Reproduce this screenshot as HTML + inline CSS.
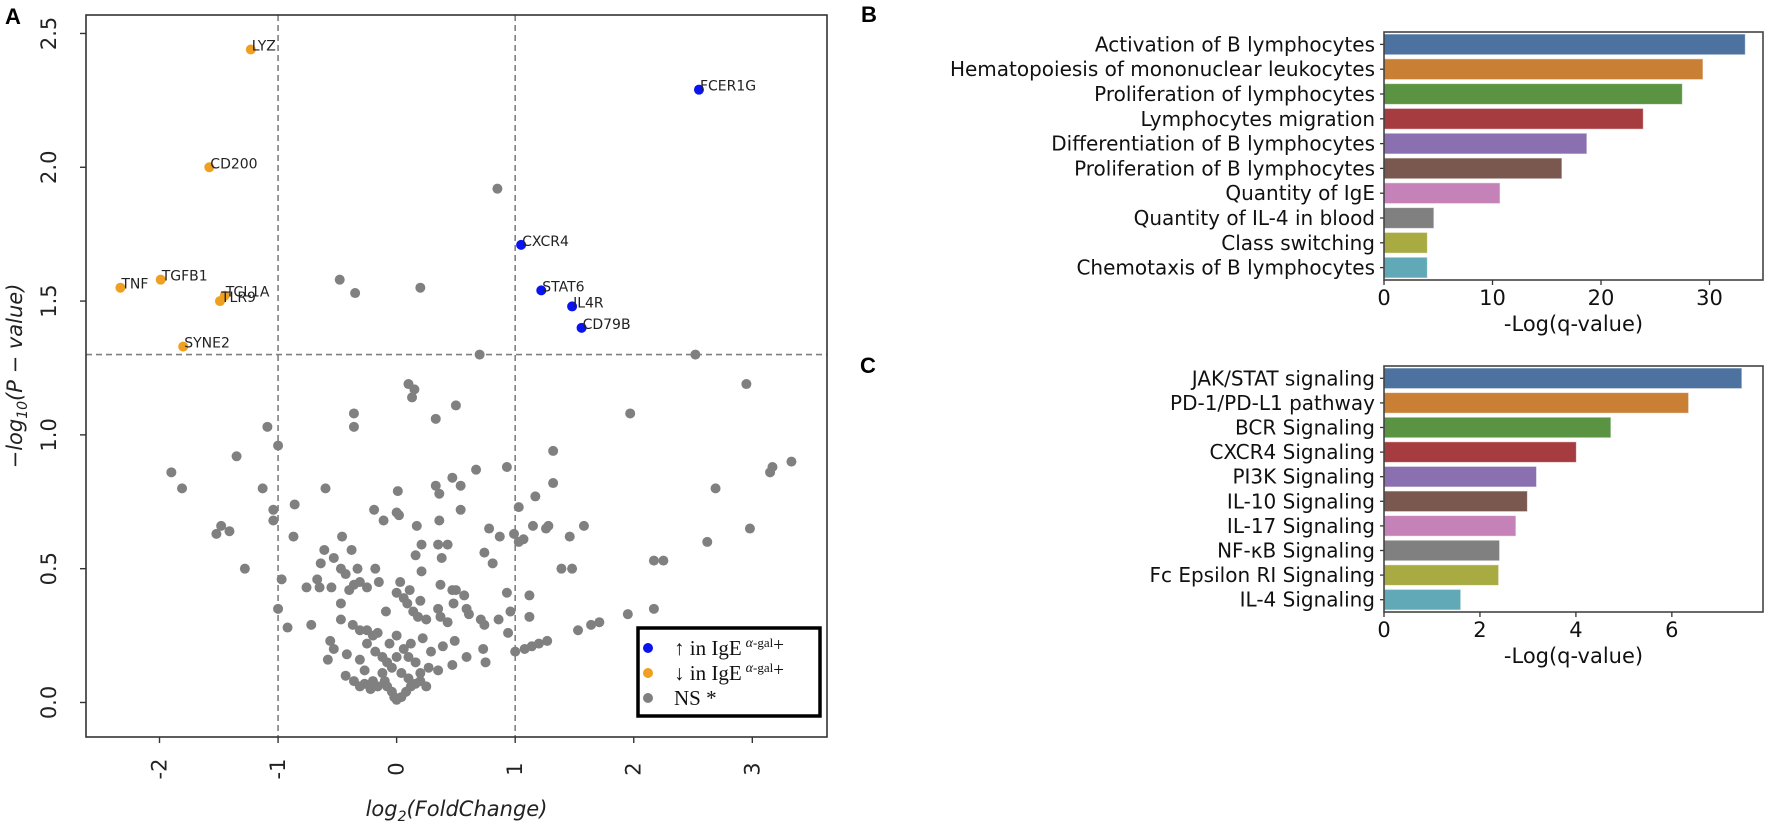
<!DOCTYPE html>
<html><head><meta charset="utf-8"><style>
html,body{margin:0;padding:0;background:#fff;}
svg{display:block;font-family:"DejaVu Sans","Liberation Sans",sans-serif;}
</style></head><body>
<svg id="fig" width="1772" height="829" viewBox="0 0 1772 829" xmlns="http://www.w3.org/2000/svg">
<g id="panelA"></g>
<g id="panelB"></g>
<g id="panelC"></g>
</svg>
<script>
// ---------- Volcano data ----------
const upGenes = ["FCER1G","CXCR4","STAT6","IL4R","CD79B"];
const upX = [2.55,1.05,1.22,1.48,1.56];
const upY = [2.29,1.71,1.54,1.48,1.40];
const downGenes = ["LYZ","CD200","TNF","TGFB1","TCL1A","TLR9","SYNE2"];
const downX = [-1.23,-1.58,-2.33,-1.99,-1.45,-1.49,-1.80];
const downY = [2.44,2.00,1.55,1.58,1.52,1.50,1.33];
const nsX = [0.85,-0.48,-0.35,0.2,0.70,2.52,0.1,0.15,0.13,-0.36,-0.36,0.5,0.33,1.97,2.95,-1.09,-1.0,-1.35,-1.9,-1.81,-1.13,1.32,1.32,0.93,0.67,0.47,0.54,0.33,0.36,0.01,-0.6,1.17,2.69,-0.86,-1.04,-1.04,-0.19,0,0.02,-0.11,0.36,0.54,1.03,0.17,0.78,0.99,1.03,1.07,1.15,1.28,1.26,1.58,1.46,0.87,-1.52,-1.48,-1.41,-0.87,-0.46,0.21,0.35,0.43,0.74,0.81,0.16,0.38,-0.38,-0.61,-0.64,-0.53,-1.28,1.39,1.48,2.17,2.25,2.62,2.98,-0.97,-0.76,-0.67,-0.65,-0.55,-0.47,-0.43,-0.33,-0.31,-0.36,-0.40,-0.18,-0.25,-0.15,0.03,0,0.11,0.21,0.37,0.47,0.5,0.57,0.93,1.12,-1.0,-0.92,-0.72,-0.47,-0.47,-0.37,-0.31,-0.09,0.06,0.09,0.2,0.14,0.18,0.25,0.35,0.37,0.43,0.48,0.59,0.61,0.71,0.74,0.86,0.96,0.94,1.12,1.53,1.64,1.71,1.95,2.17,1.0,1.08,1.14,1.2,1.27,0.73,0.75,0.59,0.49,0.47,0.39,0.35,-0.56,-0.53,-0.58,-0.42,-0.43,-0.31,-0.27,-0.36,-0.25,-0.2,-0.16,-0.25,-0.18,-0.12,-0.08,-0.12,-0.2,-0.22,-0.16,-0.08,-0.04,-0.02,0,0.04,0.08,0.12,0.16,0.2,0.25,0.1,0.04,-0.04,0,0.06,0.12,0.1,0.16,0.2,0.27,0.29,0.22,0,-0.06,-0.1,-0.27,-0.31,3.15,3.17,3.33];
const nsY = [1.92,1.58,1.53,1.55,1.30,1.30,1.19,1.17,1.14,1.08,1.03,1.11,1.06,1.08,1.19,1.03,0.96,0.92,0.86,0.80,0.80,0.94,0.82,0.88,0.87,0.84,0.81,0.81,0.78,0.79,0.80,0.77,0.80,0.74,0.72,0.68,0.72,0.71,0.70,0.68,0.68,0.72,0.73,0.66,0.65,0.63,0.60,0.61,0.66,0.66,0.65,0.66,0.62,0.62,0.63,0.66,0.64,0.62,0.62,0.59,0.59,0.59,0.56,0.52,0.55,0.54,0.57,0.57,0.52,0.54,0.50,0.50,0.50,0.53,0.53,0.60,0.65,0.46,0.43,0.46,0.43,0.43,0.50,0.48,0.50,0.45,0.44,0.42,0.50,0.43,0.45,0.45,0.41,0.42,0.49,0.44,0.42,0.42,0.40,0.41,0.40,0.35,0.28,0.29,0.37,0.31,0.29,0.27,0.34,0.39,0.37,0.38,0.34,0.32,0.31,0.35,0.32,0.30,0.37,0.35,0.33,0.31,0.29,0.31,0.34,0.26,0.32,0.27,0.29,0.30,0.33,0.35,0.19,0.20,0.21,0.22,0.23,0.20,0.15,0.17,0.23,0.14,0.21,0.12,0.23,0.20,0.16,0.18,0.10,0.16,0.12,0.08,0.27,0.25,0.26,0.22,0.19,0.17,0.15,0.11,0.08,0.05,0.06,0.06,0.04,0.02,0.01,0.02,0.04,0.06,0.07,0.08,0.06,0.09,0.11,0.13,0.17,0.20,0.22,0.17,0.15,0.11,0.13,0.19,0.24,0.25,0.22,0.08,0.07,0.06,0.86,0.88,0.90];
const xTicksA = [-2,-1,0,1,2,3];
const yTicksA = [0.0,0.5,1.0,1.5,2.0,2.5];

// ---------- Bar data ----------
const catsB = ["Activation of B lymphocytes","Hematopoiesis of mononuclear leukocytes","Proliferation of lymphocytes","Lymphocytes migration","Differentiation of B lymphocytes","Proliferation of B lymphocytes","Quantity of IgE","Quantity of IL-4 in blood","Class switching","Chemotaxis of B lymphocytes"];
const valsB = [33.3,29.4,27.5,23.9,18.7,16.4,10.7,4.6,4.0,4.0];
const ticksB = [0,10,20,30];
const catsC = ["JAK/STAT signaling","PD-1/PD-L1 pathway","BCR Signaling","CXCR4 Signaling","PI3K Signaling","IL-10 Signaling","IL-17 Signaling","NF-κB Signaling","Fc Epsilon RI Signaling","IL-4 Signaling"];
const valsC = [7.46,6.35,4.73,4.01,3.18,2.99,2.75,2.41,2.39,1.60];
const ticksC = [0,2,4,6];
const barColors = ["#4d72a0","#c98035","#5a9442","#a63c40","#8a70b0","#7a5850","#c482b8","#808080","#a8aa42","#62a9b8"];

const NS="http://www.w3.org/2000/svg";
function mk(parent, tag, attrs, text){
  const e=document.createElementNS(NS,tag);
  for(const k in attrs) e.setAttribute(k,attrs[k]);
  if(text!==undefined) e.textContent=text;
  parent.appendChild(e); return e;
}

// ---------- Panel A ----------
(function(){
  const g=document.getElementById('panelA');
  const L=86,R=827,T=15,B=737;
  const x0=-2.62,x1=3.63,y0=-0.129,y1=2.569;
  const sx=v=>L+(v-x0)/(x1-x0)*(R-L);
  const sy=v=>B-(v-y0)/(y1-y0)*(B-T);
  let t=mk(g,'text',{x:5,y:24,'font-size':22,'font-weight':'bold','font-family':'Liberation Sans, sans-serif'},'A');
  
  
  [-1,1].forEach(v=>{
    const l=mk(g,'line',{x1:sx(v),x2:sx(v),y1:T,y2:B,stroke:'#808080','stroke-width':1.6,'stroke-dasharray':'6,4'});
    
    
  });
  const hl=mk(g,'line',{x1:L,x2:R,y1:sy(1.3),y2:sy(1.3),stroke:'#808080','stroke-width':1.6,'stroke-dasharray':'6,4'});
  
  
  for(let i=0;i<nsX.length;i++){
    const c=mk(g,'circle',{cx:sx(nsX[i]),cy:sy(nsY[i]),r:5,fill:'#808080'});
    
    
  }
  function sig(names,xs,ys,col,kind){
    for(let i=0;i<names.length;i++){
      const c=mk(g,'circle',{cx:sx(xs[i]),cy:sy(ys[i]),r:5,fill:col});
      
      
      const tx=mk(g,'text',{x:sx(xs[i])+1,y:sy(ys[i])+1,'font-size':14,fill:'#222'},names[i]);
      
      
    }
  }
  sig(downGenes,downX,downY,'#f0a020','down');
  sig(upGenes,upX,upY,'#0a14f0','up');
  const fr=mk(g,'rect',{x:L,y:T,width:R-L,height:B-T,fill:'none',stroke:'#333','stroke-width':1.6});
  
  
  xTicksA.forEach(v=>{
    mk(g,'line',{x1:sx(v),x2:sx(v),y1:B,y2:B+6,stroke:'#333','stroke-width':1.4});
    const tx=mk(g,'text',{x:0,y:0,'font-size':21,fill:'#222','text-anchor':'middle','dominant-baseline':'central',transform:`translate(${sx(v)},769) rotate(-90)`},v<0?'-'+Math.abs(v):String(v));
    
    
  });
  yTicksA.forEach(v=>{
    mk(g,'line',{x1:L-6,x2:L,y1:sy(v),y2:sy(v),stroke:'#333','stroke-width':1.4});
    const tx=mk(g,'text',{x:0,y:0,'font-size':21,fill:'#222','text-anchor':'middle','dominant-baseline':'central',transform:`translate(49,${sy(v)}) rotate(-90)`},v.toFixed(1));
    
    
  });
  const xl=mk(g,'text',{x:(L+R)/2,y:816,'font-size':21,'font-style':'italic','text-anchor':'middle',fill:'#222'});
  xl.innerHTML='log<tspan font-size="14" dy="5">2</tspan><tspan dy="-5">(FoldChange)</tspan>';
  
  
  const yl=mk(g,'text',{x:0,y:0,'font-size':21,'font-style':'italic','text-anchor':'middle',fill:'#222',transform:'translate(22,376) rotate(-90)'});
  yl.innerHTML='−log<tspan font-size="14" dy="5">10</tspan><tspan dy="-5">(P − value)</tspan>';
  
  
  const lg=mk(g,'g',{});
  
  
  mk(lg,'rect',{x:638,y:628,width:182,height:88,fill:'#fff',stroke:'#000','stroke-width':3.5});
  const ent=[['#0a14f0','↑ in IgE',true,648],['#f0a020','↓ in IgE',true,673],['#808080','NS *',false,698]];
  ent.forEach(e=>{
    const eg=mk(lg,'g',{});
    
    
    mk(eg,'circle',{cx:648,cy:e[3],r:5,fill:e[0]});
    const tx=mk(eg,'text',{x:674,y:e[3]+7,'font-size':21,'font-family':'Liberation Serif, serif',fill:'#111'},e[1]);
    if(e[2]){
      mk(tx,'tspan',{'font-size':14,'font-style':'italic',dy:-8,dx:4},'α');
      mk(tx,'tspan',{'font-size':13},'-gal');
      mk(tx,'tspan',{'font-size':19,dy:4},'+');
    }
  });
})();

// ---------- Bar panels ----------
function barPanel(gid,letter,lx,ly,cats,vals,ticks,T,B,xmax,L,R){
  const g=document.getElementById(gid);
  const sx=v=>L+v/xmax*(R-L);
  const step=(B-T)/cats.length;
  const lab=mk(g,'text',{x:lx,y:ly,'font-size':22,'font-weight':'bold','font-family':'Liberation Sans, sans-serif'},letter);
  
  
  for(let i=0;i<cats.length;i++){
    const cy=T+step*(i+0.5);
    const r=mk(g,'rect',{x:L,y:cy-step*0.42,width:sx(vals[i])-L,height:step*0.84,fill:barColors[i],stroke:'#fff','stroke-width':1,'stroke-opacity':0.6});
    
    
    mk(g,'line',{x1:L-4,x2:L,y1:cy,y2:cy,stroke:'#333','stroke-width':1.3});
    const tx=mk(g,'text',{x:L-9,y:cy,'font-size':20,'text-anchor':'end','dominant-baseline':'central',fill:'#111'},cats[i]);
    
    
  }
  const fr=mk(g,'rect',{x:L,y:T,width:R-L,height:B-T,fill:'none',stroke:'#444','stroke-width':1.6});
  
  
  ticks.forEach(v=>{
    mk(g,'line',{x1:sx(v),x2:sx(v),y1:B,y2:B+5,stroke:'#333','stroke-width':1.3});
    const tx=mk(g,'text',{x:sx(v),y:B+18,'font-size':21,'text-anchor':'middle','dominant-baseline':'central',fill:'#111'},String(v));
    
    
  });
  const xl=mk(g,'text',{x:(L+R)/2,y:B+44,'font-size':21,'text-anchor':'middle','dominant-baseline':'central',fill:'#111'},'-Log(q-value)');
  
  
}
barPanel('panelB','B',861,22,catsB,valsB,ticksB,32,280,34.93,1384,1763);
barPanel('panelC','C',860,373,catsC,valsC,ticksC,366,612,7.9,1384,1763);
</script>
</body></html>
